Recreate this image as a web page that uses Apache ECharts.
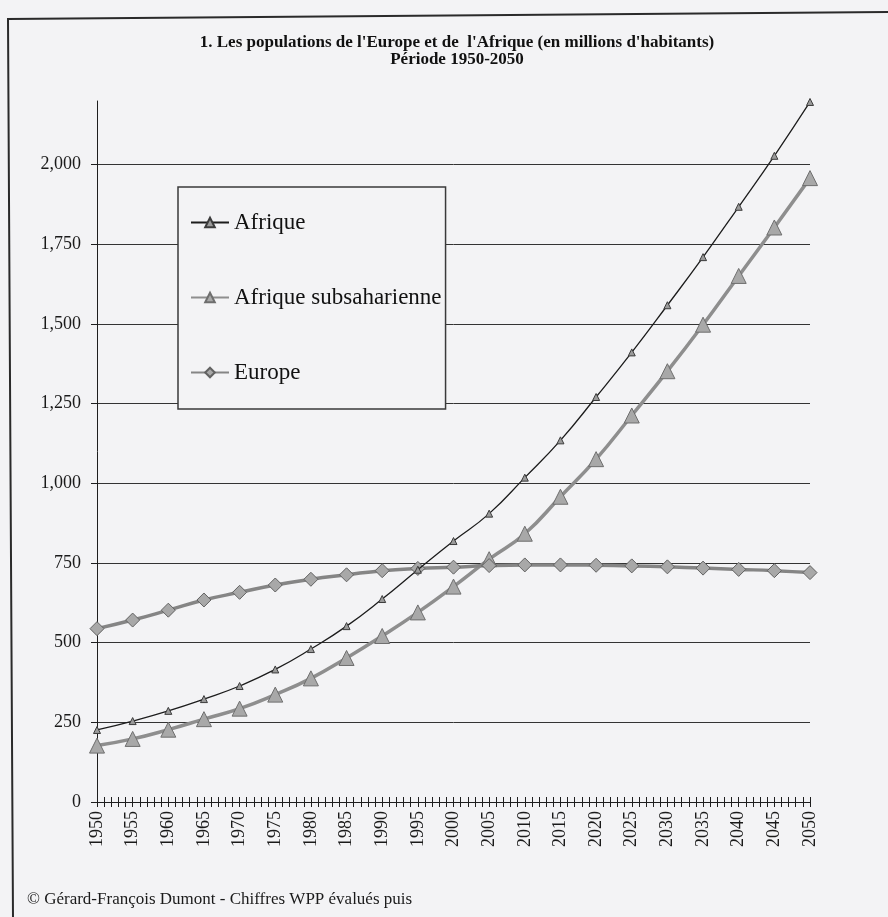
<!DOCTYPE html>
<html>
<head>
<meta charset="utf-8">
<script src="https://cdn.jsdelivr.net/npm/echarts@6/dist/echarts.min.js"></script>
<style>
  html, body { margin: 0; padding: 0; background: #f3f3f5; }
  #chart { width: 888px; height: 917px; }
</style>
</head>
<body>
<div id="chart"></div>
<script>
// années (tous les 5 ans)
var years = [1950, 1955, 1960, 1965, 1970, 1975, 1980, 1985, 1990, 1995, 2000,
  2005, 2010, 2015, 2020, 2025, 2030, 2035, 2040, 2045, 2050]
// millions d'habitants
var afrique = [226, 254, 286, 323, 364, 416, 480, 552, 637, 729, 819,
  905, 1018, 1135, 1271, 1411, 1559, 1710, 1868, 2028, 2197]
var subsaharienne = [177, 198, 227, 260, 293, 337, 388, 452, 521, 595, 676,
  762, 842, 958, 1076, 1213, 1352, 1498, 1651, 1803, 1958]
var europe = [544, 571, 602, 634, 658, 681, 699, 713, 726, 733, 737,
  742, 744, 744, 743, 741, 738, 734, 730, 726, 720]
var yTicks = [0, 250, 500, 750, 1000, 1250, 1500, 1750, 2000]

var serif = 'Liberation Serif'

function pairs(values) {
  var out = []
  for (var i = 0; i < years.length; i++) {
    out.push([years[i], values[i]])
  }
  return out
}

var chart = echarts.init(document.getElementById('chart'))

var tickStyle = { color: '#1e1e1e', width: 1 }
var plotBox = { left: 97, right: 78, top: 101, bottom: 115 }

chart.setOption({
  backgroundColor: '#f3f3f5',
  animation: false,
  textStyle: { fontFamily: serif },
  graphic: [
    {
      type: 'polyline',
      shape: { points: [[13, 917], [8, 19], [888, 12]] },
      style: { stroke: '#2a2a2a', lineWidth: 2, fill: null }
    },
    {
      type: 'text',
      x: 457,
      y: 34,
      style: {
        text: "1. Les populations de l'Europe et de  l'Afrique (en millions d'habitants)",
        font: 'bold 17px "Liberation Serif"',
        fill: '#111',
        align: 'center'
      }
    },
    {
      type: 'text',
      x: 457,
      y: 51,
      style: {
        text: 'Période 1950-2050',
        font: 'bold 17px "Liberation Serif"',
        fill: '#111',
        align: 'center'
      }
    },
    {
      type: 'text',
      x: 27,
      y: 891,
      style: {
        text: '© Gérard-François Dumont - Chiffres WPP évalués puis',
        font: '17px "Liberation Serif"',
        fill: '#1a1a1a'
      }
    }
  ],
  legend: {
    orient: 'vertical',
    left: 178,
    top: 187,
    padding: [24, 4, 25, 12],
    itemGap: 52,
    itemWidth: 38,
    itemHeight: 12,
    borderColor: '#3a3a3a',
    borderWidth: 1.5,
    backgroundColor: '#f3f3f5',
    textStyle: { fontFamily: serif, fontSize: 23, color: '#111' },
    data: ['Afrique', 'Afrique subsaharienne', 'Europe']
  },
  grid: [
    Object.assign({}, plotBox),
    // same box again, only for the upper half of the crossing x ticks
    Object.assign({}, plotBox)
  ],
  xAxis: [
    {
      type: 'value',
      gridIndex: 0,
      min: 1950,
      max: 2050,
      interval: 5,
      axisLine: { lineStyle: tickStyle },
      axisTick: { show: true, length: 5, lineStyle: tickStyle },
      minorTick: { show: true, splitNumber: 5, length: 5, lineStyle: tickStyle },
      splitLine: { show: false },
      axisLabel: {
        rotate: 90,
        margin: 9,
        fontFamily: serif,
        fontSize: 18,
        color: '#1a1a1a',
        formatter: function (v) { return String(v) }
      }
    },
    {
      type: 'value',
      gridIndex: 1,
      min: 1950,
      max: 2050,
      interval: 5,
      axisLine: { show: false },
      axisTick: { show: true, inside: true, length: 5, lineStyle: tickStyle },
      minorTick: { show: true, splitNumber: 5, length: 5, lineStyle: tickStyle },
      splitLine: { show: false },
      axisLabel: { show: false }
    }
  ],
  yAxis: [
    {
      type: 'value',
      gridIndex: 0,
      min: 0,
      max: 2200,
      interval: 250,
      axisLine: { show: true, lineStyle: tickStyle },
      axisTick: { show: true, length: 6, lineStyle: tickStyle },
      axisLabel: {
        showMaxLabel: false,
        margin: 16,
        fontFamily: serif,
        fontSize: 18,
        color: '#1a1a1a',
        formatter: function (v) {
          if (yTicks.indexOf(v) < 0) return ''
          return v.toLocaleString('en-US')
        }
      },
      splitLine: {
        show: true,
        showMinLine: false,
        showMaxLine: false,
        lineStyle: { color: '#333333', width: 1 }
      }
    },
    {
      type: 'value',
      gridIndex: 1,
      min: 0,
      max: 2200,
      show: false
    }
  ],
  series: [
    {
      name: 'Afrique',
      type: 'line',
      smooth: true,
      symbol: 'triangle',
      symbolSize: 7,
      lineStyle: { color: '#1c1c1c', width: 1.3 },
      itemStyle: { color: '#9a9a9a', borderColor: '#3c3c3c', borderWidth: 1 },
      z: 4,
      data: pairs(afrique)
    },
    {
      name: 'Afrique subsaharienne',
      type: 'line',
      smooth: true,
      symbol: 'triangle',
      symbolSize: 15,
      lineStyle: { color: '#8e8e8e', width: 3.5 },
      itemStyle: { color: '#a8a8a8', borderColor: '#6e6e6e', borderWidth: 1 },
      z: 3,
      data: pairs(subsaharienne)
    },
    {
      name: 'Europe',
      type: 'line',
      smooth: true,
      symbol: 'diamond',
      symbolSize: 14,
      lineStyle: { color: '#858585', width: 3.5 },
      itemStyle: { color: '#a8a8a8', borderColor: '#626262', borderWidth: 1 },
      z: 3,
      data: pairs(europe)
    }
  ]
})
</script>
</body>
</html>
